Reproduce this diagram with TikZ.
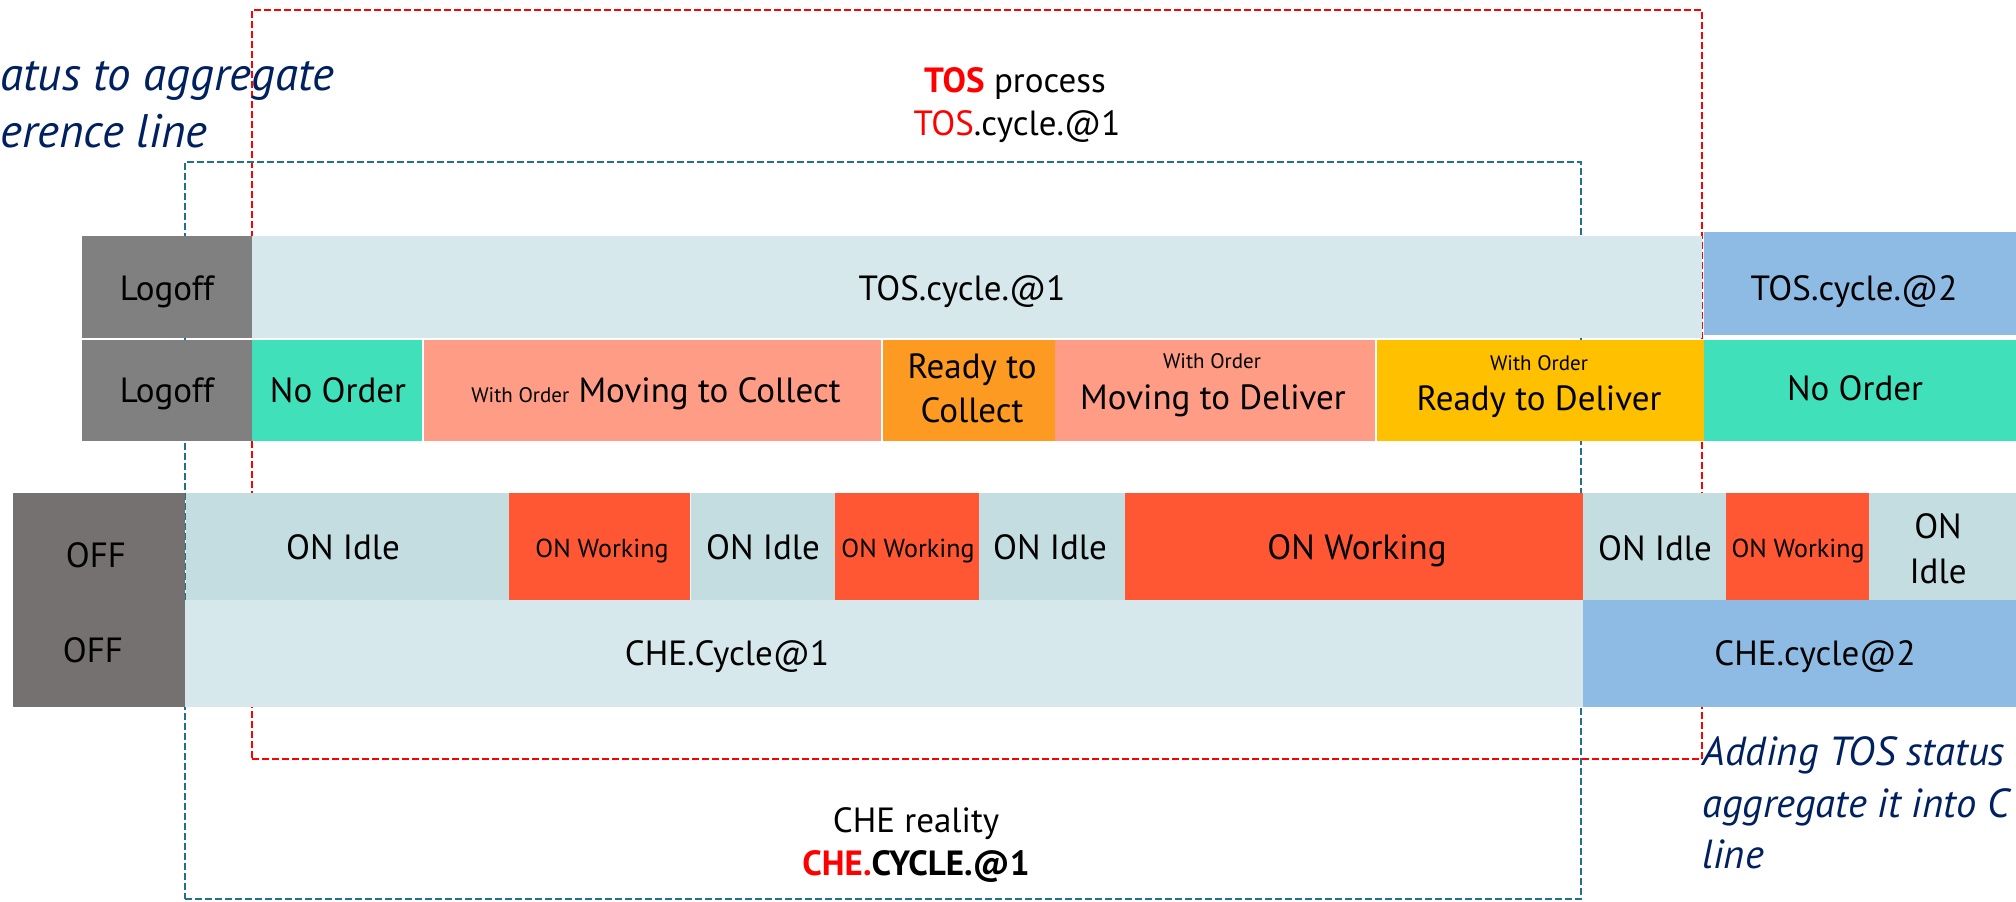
\documentclass[tikz,border=0pt]{standalone}
\usepackage{fontspec}
\setmainfont{PT Sans}
\usetikzlibrary{fit}

\definecolor{logoffgray}{HTML}{808080}
\definecolor{offgray}{HTML}{767171}
\definecolor{cyclelight}{HTML}{D6E8EC}
\definecolor{idlecol}{HTML}{C3DDE0}
\definecolor{cycleblue}{HTML}{8DBBE3}
\definecolor{noorder}{HTML}{40E0BA}
\definecolor{salmon}{HTML}{FE9C85}
\definecolor{readycol}{HTML}{FD9A22}
\definecolor{delivercol}{HTML}{FFC000}
\definecolor{working}{HTML}{FF5733}
\definecolor{tealframe}{HTML}{22708C}
\definecolor{navy}{HTML}{002060}
\definecolor{tosred}{HTML}{FF0000}

\tikzset{
  seg/.style={inner sep=0pt, outer sep=0pt, draw=none},
  frame/.style={inner sep=0pt, outer sep=0pt, line width=1pt, dash pattern=on 3.5pt off 1.5pt},
  txt/.style={inner sep=0pt, anchor=base, align=center, font=\fontsize{17.5}{22}\selectfont},
  tinytxt/.style={inner sep=0pt, anchor=base, font=\fontsize{10.5}{12}\selectfont},
  smalltxt/.style={inner sep=0pt, anchor=base, font=\fontsize{13}{15}\selectfont},
  note/.style={inner sep=0pt, anchor=base west, text=navy},
  noteleftfont/.style={font=\fontsize{23.5}{28}\selectfont\itshape},
  noterightfont/.style={font=\fontsize{20.3}{25}\selectfont\itshape},
}
\newcommand\segbox[6]{\node[seg, fill=#2, fit={(#3,#4) (#5,#6)}] (#1) {};}

\begin{document}
\begin{tikzpicture}[x=0.5pt, y=-0.5pt]
\clip (0,0) rectangle (2016,901);

% process frames (behind the bars)
\node[frame, draw=tosred, fit={(252,10) (1702,759)}] (tosframe) {};
\node[frame, draw=tealframe, fit={(185,162) (1581,899)}] (cheframe) {};

% frame captions
\node[txt] (toscap1) at (1015,92) {\textbf{\color{tosred}TOS} process};
\node[txt] (toscap2) at (1017,135) {{\color{tosred}TOS}.cycle.@1};
\node[txt] (checap1) at (916,832) {CHE reality};
\node[txt] (checap2) at (916,875) {\textbf{{\color{tosred}CHE.}CYCLE.@1}};

% side notes
\node[note, noteleftfont] (notelefta) at (0,90) {atus to aggregate};
\node[note, noteleftfont] (noteleftb) at (0,147) {erence line};
\node[note, noterightfont] (noterighta) at (1702,765) {Adding TOS status};
\node[note, noterightfont] (noterightb) at (1702,817) {aggregate it into C};
\node[note, noterightfont] (noterightc) at (1702,868) {line};

% TOS cycle row
\segbox{logoffa}{logoffgray}{82}{236}{252}{338}
\segbox{tosone}{cyclelight}{252}{236}{1702}{338}
\segbox{tostwo}{cycleblue}{1704}{232}{2016}{335}
\node[txt] (logoffalab) at (167,300) {Logoff};
\node[txt] (toslab) at (962,300) {TOS.cycle.@1};
\node[txt] (tostwolab) at (1854,300) {TOS.cycle.@2};

% TOS status row
\segbox{logoffb}{logoffgray}{82}{340}{252}{441}
\segbox{noordera}{noorder}{252}{340}{422}{441}
\segbox{movcol}{salmon}{424}{340}{881}{441}
\segbox{readycoll}{readycol}{883}{340}{1055}{441}
\segbox{movdel}{salmon}{1055}{340}{1375}{441}
\segbox{readydel}{delivercol}{1377}{340}{1704}{441}
\segbox{noorderb}{noorder}{1704}{340}{2016}{441}
\node[txt] (logoffblab) at (167,402) {Logoff};
\node[txt] (noorderalab) at (338,402) {No Order};
\node[txt] (movcollab) at (656,402) {{\fontsize{10.5}{12}\selectfont With Order} Moving to Collect};
\node[txt] (readycolla) at (972,378) {Ready to};
\node[txt] (readycollb) at (972,422) {Collect};
\node[tinytxt] (movdelord) at (1212,368) {With Order};
\node[txt] (movdellab) at (1213,409) {Moving to Deliver};
\node[tinytxt] (readydelord) at (1539,370) {With Order};
\node[txt] (readydellab) at (1539,410) {Ready to Deliver};
\node[txt] (noorderblab) at (1855,400) {No Order};

% CHE status row
\segbox{offbox}{offgray}{13}{493}{185}{707}
\segbox{idlea}{idlecol}{186}{493}{509}{600}
\segbox{worka}{working}{509}{493}{690}{600}
\segbox{idleb}{idlecol}{691}{493}{835}{600}
\segbox{workb}{working}{835}{493}{979}{600}
\segbox{idlec}{idlecol}{979}{493}{1125}{600}
\segbox{workc}{working}{1125}{493}{1583}{600}
\segbox{idled}{idlecol}{1583}{493}{1726}{600}
\segbox{workd}{working}{1726}{493}{1869}{600}
\segbox{idlee}{idlecol}{1869}{493}{2016}{600}
\node[txt] (offalab) at (96,567) {OFF};
\node[txt] (idlealab) at (343,559) {ON Idle};
\node[smalltxt] (workalab) at (602,557) {ON Working};
\node[txt] (idleblab) at (763,559) {ON Idle};
\node[smalltxt] (workblab) at (908,557) {ON Working};
\node[txt] (idleclab) at (1050,559) {ON Idle};
\node[txt] (workclab) at (1357,559) {ON Working};
\node[txt] (idledlab) at (1655,560) {ON Idle};
\node[smalltxt] (workdlab) at (1798,557) {ON Working};
\node[txt] (idleelaba) at (1938,538) {ON};
\node[txt] (idleelabb) at (1938,583) {Idle};

% CHE cycle row
\segbox{cheone}{cyclelight}{185}{600}{1583}{707}
\segbox{chetwo}{cycleblue}{1583}{600}{2016}{707}
\node[txt] (offblab) at (93,662) {OFF};
\node[txt] (cheonelab) at (727,665) {CHE.Cycle@1};
\node[txt] (chetwolab) at (1815,665) {CHE.cycle@2};
\end{tikzpicture}
\end{document}
